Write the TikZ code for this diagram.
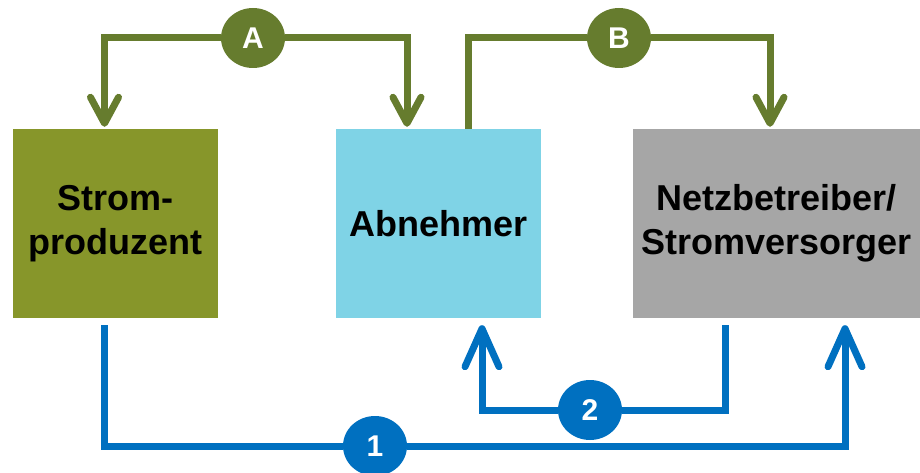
\documentclass[tikz,border=0pt]{standalone}
\usepackage{fontspec}
\setmainfont{Liberation Sans}
\usetikzlibrary{arrows.meta, shapes.geometric, positioning}
\definecolor{prodGreen}{RGB}{135,150,42}
\definecolor{buyerBlue}{RGB}{127,211,230}
\definecolor{gridGrey}{RGB}{166,166,166}
\definecolor{flowGreen}{RGB}{102,124,46}
\definecolor{flowBlue}{RGB}{0,112,192}
\tikzset{
    box/.style={rectangle, inner sep=0pt, minimum height=189pt, align=center, font=\fontsize{36}{44}\selectfont\bfseries},
    tag/.style={ellipse, inner sep=0pt, minimum width=64pt, minimum height=60pt, text=white, font=\fontsize{30}{30}\selectfont\bfseries},
    greenFlow/.style={draw=flowGreen, line width=7pt},
    greenArrow/.style={greenFlow, -{Straight Barb[length=26pt, width=28pt, round]}, shorten >=2pt},
    blueFlow/.style={draw=flowBlue, line width=7pt},
    blueArrow/.style={blueFlow, -{Straight Barb[length=38pt, width=34pt, round]}, shorten >=7pt},
}

\begin{document}
\begin{tikzpicture}[x=1pt, y=-1pt]
    \useasboundingbox (0,0) rectangle (920,473);

    % the three parties
    \node[box, fill=prodGreen, minimum width=205pt] (prod) at (115.5,223.5) {Strom-\\produzent};
    \node[box, fill=buyerBlue, minimum width=205pt] (buyer) at (438.5,223.5) {Abnehmer};
    \node[box, fill=gridGrey, minimum width=287pt] (grid) at (776.5,223.5) {Netzbetreiber/\\Stromversorger};

    % contracts and flows
    \node[tag, fill=flowGreen] (A) at (253,38) {A};
    \node[tag, fill=flowGreen] (B) at (619,38) {B};
    \node[tag, fill=flowBlue] (one) at (375,446) {1};
    \node[tag, fill=flowBlue] (two) at (590,410) {2};

    \draw[greenArrow] (A.west) -| ([xshift=-11pt]prod.north);
    \draw[greenArrow] (A.east) -| ([xshift=-31.5pt]buyer.north);
    \draw[greenFlow] ([xshift=29.5pt]buyer.north) |- (B.west);
    \draw[greenArrow] (B.east) -| ([xshift=-6.5pt]grid.north);

    \draw[blueFlow] ([xshift=-11.5pt, yshift=-7pt]prod.south) |- (one.west);
    \draw[blueArrow] (one.east) -| ([xshift=68.5pt]grid.south);
    \draw[blueFlow] ([xshift=-51.5pt, yshift=-7pt]grid.south) |- (two.east);
    \draw[blueArrow] (two.west) -| ([xshift=43.5pt]buyer.south);

\end{tikzpicture}
\end{document}
